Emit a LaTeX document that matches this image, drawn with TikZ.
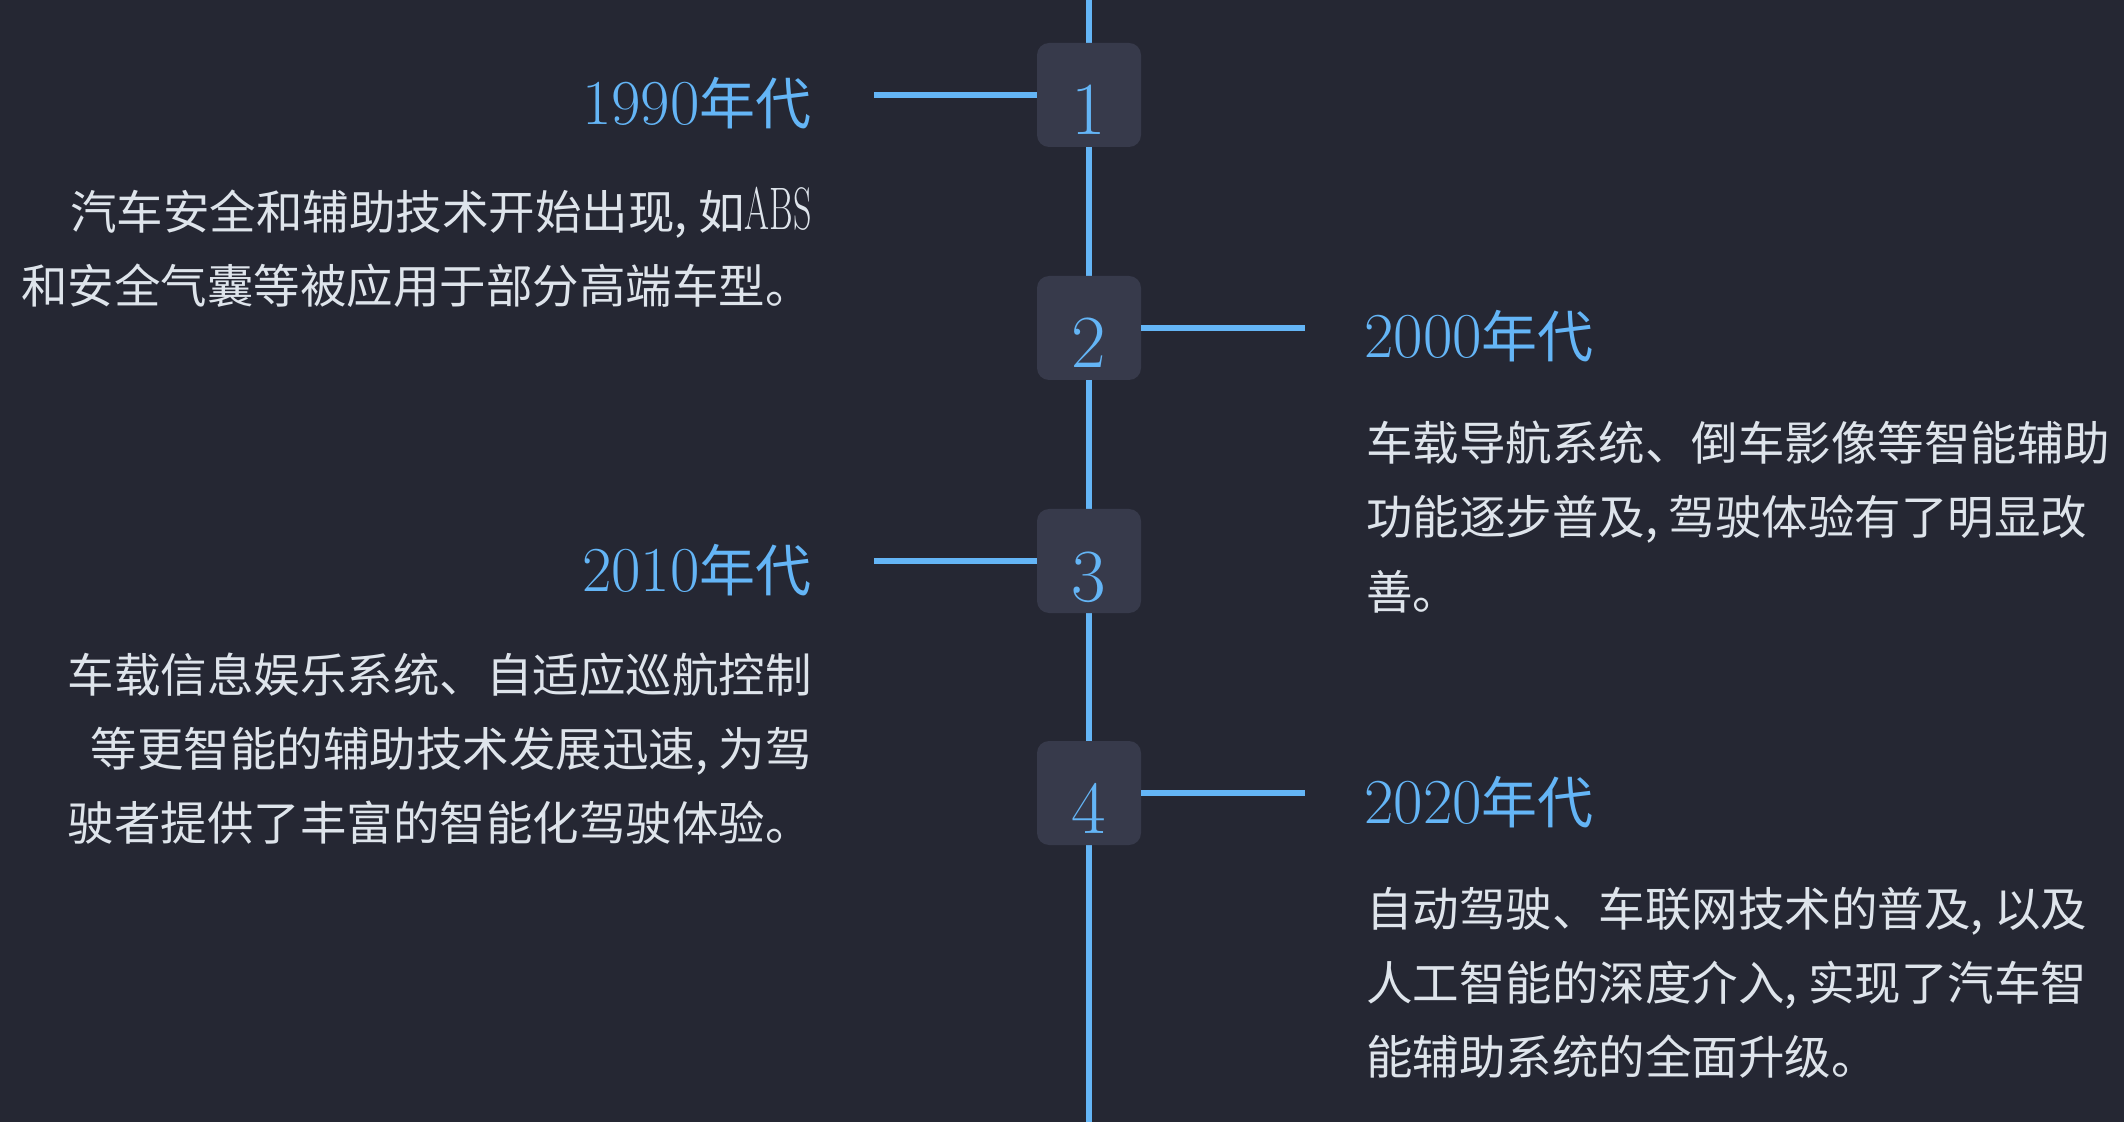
\documentclass[tikz,border=0pt]{standalone}
\usepackage{fontspec}
\usepackage{graphicx}
\newfontfamily\cjk{Noto Sans CJK SC}
\definecolor{bgc}{RGB}{37,39,51}
\definecolor{boxc}{RGB}{55,58,75}
\definecolor{accent}{RGB}{100,181,246}
\definecolor{bodyc}{RGB}{222,228,235}
\newcommand\ABStxt{{\rmfamily\scalebox{0.6}[1]{\fontsize{30pt}{37pt}\selectfont ABS}}}
\newcommand\blockR[1]{\vtop{\baselineskip=37pt\lineskip=0pt\halign{\hfil##\cr#1\crcr}}}
\newcommand\blockL[1]{\vtop{\baselineskip=37pt\lineskip=0pt\halign{##\hfil\cr#1\crcr}}}
\newcommand\yeartxt[1]{{\fontsize{32pt}{34pt}\selectfont #1}{\cjk\fontsize{28pt}{34pt}\selectfont 年代}}
\tikzset{
  stepbox/.style={fill=boxc, rounded corners=6pt, minimum width=52pt, minimum height=52pt, inner sep=0pt},
  num/.style={text=accent, font=\fontsize{37.5pt}{40pt}\selectfont, anchor=base, inner sep=0pt},
  yr/.style={text=accent, inner sep=0pt},
  body/.style={text=bodyc, font=\cjk\fontsize{23.25pt}{37pt}\selectfont, inner sep=0pt},
  conn/.style={draw=accent, line width=3pt},
  spine/.style={draw=accent, line width=3pt}
}
\begin{document}
\begin{tikzpicture}[x=0.5pt,y=-0.5pt]
\path[fill=bgc, use as bounding box] (0,0) rectangle (2124,1122);
% spine
\coordinate (top) at (1089,0);
\coordinate (bot) at (1089,1122);
\draw[spine] (top) -- (bot);
% boxes
\node[stepbox] (b1) at (1089,95) {};
\node[stepbox] (b2) at (1089,328) {};
\node[stepbox] (b3) at (1089,561) {};
\node[stepbox] (b4) at (1089,793) {};
\node[num] (n1) at (1089,135) {1};
\node[num] (n2) at (1089,368) {2};
\node[num] (n3) at (1089,601) {3};
\node[num] (n4) at (1089,833) {4};
% connectors
\coordinate (c1) at (874,95);
\coordinate (c2) at (1305,328);
\coordinate (c3) at (874,561);
\coordinate (c4) at (1305,793);
\draw[conn] (c1) -- (b1.west);
\draw[conn] (b2.east) -- (c2);
\draw[conn] (c3) -- (b3.west);
\draw[conn] (b4.east) -- (c4);
% titles
\node[yr, anchor=base east] (t1) at (812,125) {\yeartxt{1990}};
\node[yr, anchor=base west] (t2) at (1364,358) {\yeartxt{2000}};
\node[yr, anchor=base east] (t3) at (812,591) {\yeartxt{2010}};
\node[yr, anchor=base west] (t4) at (1364,823) {\yeartxt{2020}};
% bodies
\node[body, anchor=base east] (d1) at (812,230) {\blockR{汽车安全和辅助技术开始出现, 如\ABStxt\cr 和安全气囊等被应用于部分高端车型。}};
\node[body, anchor=base west] (d2) at (1366,461) {\blockL{车载导航系统、倒车影像等智能辅助\cr 功能逐步普及, 驾驶体验有了明显改\cr 善。}};
\node[body, anchor=base east] (d3) at (812,692) {\blockR{车载信息娱乐系统、自适应巡航控制\cr 等更智能的辅助技术发展迅速, 为驾\cr 驶者提供了丰富的智能化驾驶体验。}};
\node[body, anchor=base west] (d4) at (1366,926) {\blockL{自动驾驶、车联网技术的普及, 以及\cr 人工智能的深度介入, 实现了汽车智\cr 能辅助系统的全面升级。}};
\end{tikzpicture}
\end{document}
